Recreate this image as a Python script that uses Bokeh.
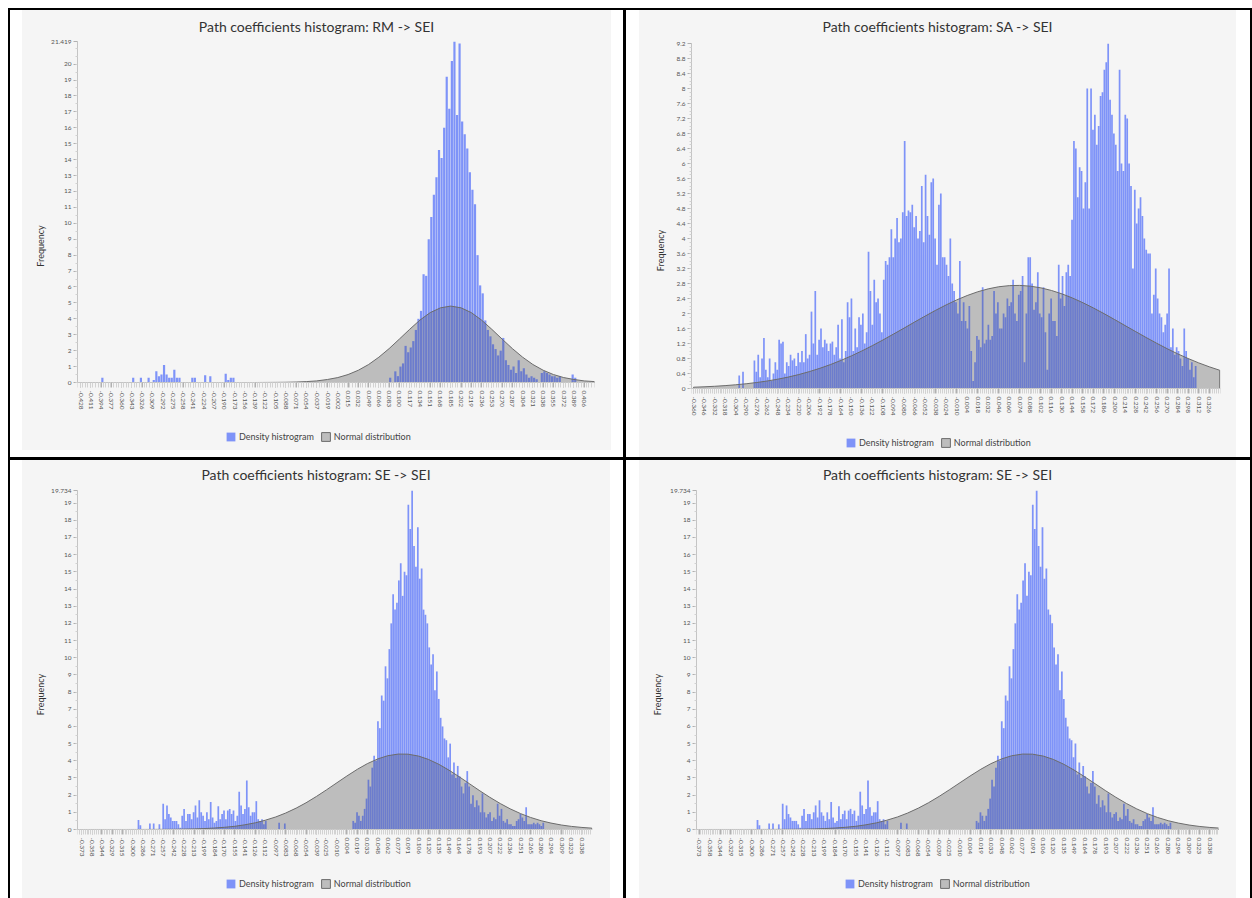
import math
import html
import numpy as np
from bokeh.plotting import figure
from bokeh.models import FixedTicker, NumeralTickFormatter, Legend, LegendItem, Div
from bokeh.layouts import row, column
from bokeh.embed import file_html
from bokeh.resources import INLINE

FONT = "Lato"

# ---------------------------------------------------------------- data
TL_TITLE = "Path coefficients histogram: RM -> SEI"
TR_TITLE = "Path coefficients histogram: SA -> SEI"
BL_TITLE = "Path coefficients histogram: SE -> SEI"
BR_TITLE = "Path coefficients histogram: SE -> SEI"

LEGEND_LABELS = ["Density histrogram", "Normal distribution"]
Y_LABEL = "Frequency"

TL_XLABELS = ["-0.428", "-0.411", "-0.394", "-0.377", "-0.360", "-0.343", "-0.326", "-0.309",
              "-0.292", "-0.275", "-0.258", "-0.241", "-0.224", "-0.207", "-0.190", "-0.173",
              "-0.156", "-0.139", "-0.122", "-0.105", "-0.088", "-0.071", "-0.054", "-0.037",
              "-0.019", "-0.002", "0.015", "0.032", "0.049", "0.066", "0.083", "0.100",
              "0.117", "0.134", "0.151", "0.168", "0.185", "0.202", "0.219", "0.236",
              "0.253", "0.270", "0.287", "0.304", "0.321", "0.338", "0.355", "0.372",
              "0.389", "0.406"]
TR_XLABELS = ["-0.360", "-0.346", "-0.332", "-0.318", "-0.304", "-0.290", "-0.276", "-0.262",
              "-0.248", "-0.234", "-0.220", "-0.206", "-0.192", "-0.178", "-0.164", "-0.150",
              "-0.136", "-0.122", "-0.108", "-0.094", "-0.080", "-0.066", "-0.052", "-0.038",
              "-0.024", "-0.010", "0.004", "0.018", "0.032", "0.046", "0.060", "0.074",
              "0.088", "0.102", "0.116", "0.130", "0.144", "0.158", "0.172", "0.186",
              "0.200", "0.214", "0.228", "0.242", "0.256", "0.270", "0.284", "0.298",
              "0.312", "0.326"]
B_XLABELS = ["-0.373", "-0.358", "-0.344", "-0.329", "-0.315", "-0.300", "-0.286", "-0.271",
             "-0.257", "-0.242", "-0.228", "-0.213", "-0.199", "-0.184", "-0.170", "-0.155",
             "-0.141", "-0.126", "-0.112", "-0.097", "-0.083", "-0.068", "-0.054", "-0.039",
             "-0.025", "-0.010", "0.004", "0.019", "0.033", "0.048", "0.062", "0.077",
             "0.091", "0.106", "0.120", "0.135", "0.149", "0.164", "0.178", "0.193",
             "0.207", "0.222", "0.236", "0.251", "0.265", "0.280", "0.294", "0.309",
             "0.323", "0.338"]

TL_YTICKS = [0, 1, 2, 3, 4, 5, 6, 7, 8, 9, 10, 11, 12, 13, 14, 15, 16, 17, 18, 19, 20, 21.419]
TR_YTICKS = [0, 0.4, 0.8, 1.2, 1.6, 2, 2.4, 2.8, 3.2, 3.6, 4, 4.4, 4.8, 5.2, 5.6, 6, 6.4,
             6.8, 7.2, 7.6, 8, 8.4, 8.8, 9.2]
B_YTICKS = [0, 1, 2, 3, 4, 5, 6, 7, 8, 9, 10, 11, 12, 13, 14, 15, 16, 17, 18, 19, 19.734]

# histogram bins: left edge of first bin, bin width, heights
TL_BIN_START = -0.428
TL_BIN_W = 0.004255
TL_HIST = [
    0, 0, 0, 0, 0, 0, 0, 0, 0.3, 0,
    0, 0, 0, 0, 0, 0, 0, 0, 0, 0,
    0.3, 0, 0, 0.3, 0, 0, 0.3, 0, 0.15, 0.7,
    0.4, 0.5, 1.1, 0.5, 0.3, 0.3, 0.8, 0.3, 0.3, 0,
    0, 0, 0, 0.3, 0.3, 0, 0, 0, 0.45, 0,
    0.4, 0, 0, 0, 0, 0, 0.55, 0.15, 0.3, 0.3,
    0, 0, 0, 0, 0, 0, 0, 0, 0, 0,
    0, 0, 0, 0, 0, 0, 0, 0, 0, 0,
    0, 0, 0, 0, 0, 0, 0, 0, 0, 0,
    0, 0, 0, 0, 0, 0, 0, 0, 0, 0,
    0, 0, 0, 0, 0, 0, 0, 0, 0, 0,
    0, 0, 0, 0, 0, 0, 0, 0, 0, 0,
    0.3, 0, 0.7, 0.4, 1.0, 1.2, 2.3, 1.9, 2.2, 2.6,
    3.3, 4.0, 4.5, 6.8, 6.7, 9.0, 10.4, 11.8, 12.9, 14.6,
    14.1, 16.0, 19.2, 17.2, 20.2, 21.419, 16.8, 21.3, 16.4, 15.6,
    14.7, 13.2, 12.1, 11.2, 8.0, 6.1, 5.6, 3.9, 3.3, 2.9,
    2.4, 2.1, 1.7, 2.0, 2.8, 1.4, 1.1, 0.8, 1.0, 0.6,
    1.4, 0.7, 0.9, 0.5, 0.3, 0.4, 0.3, 0.2, 0, 0.6,
    0.7, 0.6, 0.5, 0.4, 0.4, 0.3, 0.4, 0, 0, 0,
    0, 0.5, 0.3, 0, 0, 0, 0, 0, 0, 0,
]

TR_BIN_START = -0.3005
TR_BIN_W = 0.00253
TR_HIST = [
    0.35, 0, 0.45, 0, 0, 0, 0, 0, 0.75, 0.45,
    0.9, 0.3, 0.8, 1.35, 0.5, 0.3, 0.8, 0.2, 0.4, 0.7,
    0.5, 1.3, 1.2, 1.25, 0.4, 0.7, 0.6, 0.9, 0.75, 0.8,
    0.6, 0.95, 0.7, 1.0, 0.7, 1.45, 0.8, 0.9, 2.05, 1.2,
    2.6, 0.9, 1.3, 1.6, 1.1, 1.3, 1.2, 1.0, 1.2, 1.25,
    0.9, 1.1, 1.7, 0.8, 1.85, 0.7, 1.0, 2.3, 1.9, 2.4,
    1.0, 1.6, 1.1, 1.9, 1.7, 2.0, 1.2, 1.5, 3.65, 2.6,
    1.7, 2.9, 2.3, 2.4, 2.0, 1.5, 2.9, 3.4, 3.3, 3.5,
    4.25, 3.5, 4.0, 4.55, 3.9, 4.0, 4.7, 6.6, 4.6, 4.75,
    4.7, 4.9, 4.3, 4.6, 4.0, 4.2, 5.4, 3.9, 5.7, 4.6,
    4.1, 5.5, 5.6, 4.0, 3.3, 4.9, 5.2, 3.5, 3.5, 3.3,
    3.0, 4.0, 2.8, 2.6, 2.3, 2.0, 3.4, 1.8, 2.3, 1.8,
    1.6, 2.2, 1.0, 0.2, 0.7, 1.4, 1.3, 1.1, 2.7, 1.2,
    1.3, 1.7, 1.3, 1.4, 2.6, 2.0, 2.3, 1.6, 1.6, 2.0,
    1.9, 2.4, 2.2, 2.3, 2.9, 2.0, 1.8, 2.5, 2.6, 3.0,
    0.7, 2.0, 3.5, 3.5, 2.8, 2.1, 2.3, 3.1, 2.0, 1.9,
    2.7, 1.5, 0.5, 2.0, 2.4, 1.8, 1.8, 1.4, 3.3, 2.4,
    3.0, 2.2, 3.1, 3.3, 3.0, 4.5, 6.6, 6.4, 5.1, 5.9,
    5.8, 4.8, 5.5, 8.0, 4.8, 8.0, 6.9, 7.3, 6.5, 7.0,
    7.8, 7.9, 8.5, 8.7, 9.2, 7.7, 7.3, 6.8, 6.5, 5.8,
    8.5, 6.0, 5.8, 7.3, 7.2, 6.0, 5.4, 3.2, 5.3, 4.4,
    4.8, 5.1, 4.6, 4.0, 3.7, 3.6, 3.6, 2.0, 2.5, 3.2,
    2.4, 2.0, 1.9, 1.5, 1.7, 2.0, 3.2, 1.1, 1.6, 0.9,
    1.1, 1.0, 0.8, 0.6, 1.6, 1.0, 0.8, 0.5, 0.7, 0.3,
    0.6,
]

B_BIN_START = -0.2934
B_BIN_W = 0.0027
B_HIST = [
    0.55, 0.25, 0, 0, 0, 0, 0.35, 0, 0.35, 0,
    0, 0.3, 0, 1.5, 0.6, 1.4, 0.9, 0.7, 0.5, 0.5,
    0.5, 0.3, 0.1, 0.8, 1.2, 0.5, 0.9, 0.9, 0.6, 1.0,
    1.4, 0.7, 1.7, 1.0, 0.8, 0.5, 1.0, 0.6, 1.6, 0.7,
    0.4, 0.5, 1.35, 0.6, 0.9, 1.1, 0.6, 1.1, 1.2, 0.9,
    1.1, 0.5, 0.8, 2.2, 1.4, 0.9, 1.2, 2.85, 1.3, 0.8,
    1.0, 1.0, 1.65, 0.6, 0.5, 0.6, 0.3, 0.5, 0, 0,
    0, 0, 0, 0, 0.4, 0, 0, 0.35, 0, 0,
    0, 0, 0, 0, 0, 0, 0, 0, 0, 0,
    0, 0, 0, 0, 0, 0, 0, 0, 0, 0,
    0, 0, 0, 0, 0, 0, 0, 0, 0, 0,
    0, 0, 0, 0.5, 0.4, 1.0, 0.8, 0.5, 0.8, 1.2,
    1.8, 2.9, 2.5, 3.6, 4.3, 4.0, 6.3, 5.9, 7.8, 7.5,
    9.5, 8.8, 10.5, 12.0, 13.7, 12.8, 13.2, 14.5, 15.5, 13.6,
    15.0, 14.8, 18.9, 17.5, 19.734, 16.5, 15.3, 17.6, 14.6, 15.2,
    12.8, 12.5, 12.0, 10.6, 9.6, 10.2, 8.1, 9.2, 7.6, 6.5,
    6.0, 5.3, 5.2, 4.2, 5.0, 3.2, 3.9, 3.0, 3.7, 3.1,
    2.5, 2.1, 2.7, 3.4, 2.5, 1.5, 2.0, 1.3, 1.7, 1.4,
    1.0, 2.1, 1.0, 0.7, 0.9, 1.0, 0.5, 0.7, 0.6, 1.5,
    0.8, 1.2, 0.5, 0.4, 0.6, 0.3, 0.3, 0.2, 0.2, 0.5,
    0.6, 0.9, 0.7, 0.5, 1.3, 0.3, 0.3, 0.3, 0.4, 0.3,
    0.4, 0.3, 0.2, 0.4,
]

# normal distribution curve, read at each labelled x position plus the right end
TL_NORM_END = 0.423
TL_NORM = [0, 0, 0, 0, 0, 0, 0, 0, 0, 0, 0, 0, 0, 0, 0, 0, 0, 0,
           0.003, 0.007, 0.014, 0.029, 0.056, 0.10, 0.19, 0.31, 0.50, 0.77, 1.13, 1.59,
           2.13, 2.73, 3.34, 3.92, 4.39, 4.69, 4.80, 4.69, 4.39, 3.92, 3.34, 2.73,
           2.13, 1.59, 1.13, 0.77, 0.50, 0.31, 0.19, 0.10, 0.056]
TR_NORM_END = 0.340
TR_NORM = [0.034, 0.045, 0.059, 0.077, 0.099, 0.126, 0.160, 0.200, 0.248, 0.305, 0.372,
           0.450, 0.538, 0.637, 0.748, 0.870, 1.002, 1.144, 1.294, 1.451, 1.610, 1.772,
           1.930, 2.084, 2.229, 2.362, 2.479, 2.579, 2.657, 2.713, 2.743, 2.749, 2.729,
           2.684, 2.615, 2.524, 2.414, 2.287, 2.147, 1.997, 1.840, 1.679, 1.519, 1.361,
           1.208, 1.062, 0.925, 0.799, 0.683, 0.579, 0.486]
B_NORM_END = 0.352
B_NORM = [0.0, 0.0001, 0.0002, 0.0004, 0.0007, 0.0013, 0.0023, 0.0043, 0.0073, 0.0127,
          0.021, 0.034, 0.054, 0.085, 0.128, 0.188, 0.273, 0.391, 0.539, 0.731, 0.957,
          1.245, 1.555, 1.930, 2.306, 2.725, 3.113, 3.507, 3.832, 4.111, 4.294, 4.391,
          4.385, 4.273, 4.079, 3.788, 3.457, 3.059, 2.669, 2.251, 1.878, 1.509, 1.203,
          0.922, 0.702, 0.512, 0.374, 0.260, 0.181, 0.120, 0.080]

PANEL_BG = "#f5f5f5"


# ---------------------------------------------------------------- drawing
def title_div(text, width, height, pad_top):
    inner = ('<div style="width:%dpx;text-align:center;font-family:Lato;font-size:14px;'
             'color:#333333;line-height:15px;padding-top:%dpx;white-space:nowrap">%s</div>'
             % (width, pad_top, html.escape(text)))
    return Div(text=inner, width=width, height=height, margin=0,
               styles={"background-color": PANEL_BG})


def panel(title, xlabels, xr, yticks, ymax, yminor, bin_start, bin_w, hist, norm, norm_end,
          width, height, title_h, title_pad, left, right, frame_top, zero_px,
          ylab_standoff, legend_xy, margin, bar_frac):
    fig_h = height - title_h
    # the frame runs to the bottom edge; the x axis is drawn at y = 0 inside it,
    # so the legend below the tick labels stays inside the frame
    ylo = -ymax * (fig_h - zero_px) / (zero_px - frame_top)
    p = figure(width=width, height=fig_h, x_range=xr, y_range=(ylo, ymax),
               output_backend="svg", toolbar_location=None,
               min_border_left=left, min_border_right=right,
               min_border_top=frame_top, min_border_bottom=0)
    p.background_fill_color = PANEL_BG
    p.border_fill_color = PANEL_BG
    p.outline_line_color = None
    p.xgrid.visible = False
    p.ygrid.visible = False

    xticks = [float(s) for s in xlabels]
    nx = xticks + [norm_end]
    px = [nx[0]] + nx + [nx[-1]]
    py = [0.0] + list(norm) + [0.0]

    base = p.patch(px, py, fill_color="#dedede", line_color=None)
    centers = [bin_start + (i + 0.5) * bin_w for i, v in enumerate(hist) if v > 0]
    tops = [v for v in hist if v > 0]
    bars = p.vbar(x=centers, top=tops, bottom=0, width=bin_w * bar_frac,
                  fill_color=(80, 110, 250), fill_alpha=0.72, line_color=None)
    over = p.patch(px, py, fill_color="#3c3c3c", fill_alpha=0.2,
                   line_color="#6c6c6c", line_width=1)

    # axes
    minor_x = list(np.arange(xr[0], xr[1], bin_w))
    p.xaxis.ticker = FixedTicker(ticks=xticks, minor_ticks=minor_x)
    p.xaxis.formatter = NumeralTickFormatter(format="0.000")
    p.xaxis.major_label_orientation = -math.pi / 2
    p.xaxis.fixed_location = 0
    p.yaxis.ticker = FixedTicker(ticks=yticks, minor_ticks=list(np.arange(0, ymax, yminor)))
    p.yaxis.formatter = NumeralTickFormatter(format="0.[000]")
    p.yaxis.bounds = (0, ymax)
    for ax in (p.xaxis[0], p.yaxis[0]):
        ax.axis_line_color = "#c4c4c4"
        ax.major_tick_line_color = "#b0b0b0"
        ax.minor_tick_line_color = "#d2d2d2"
        ax.major_label_text_font = FONT
        ax.major_label_text_font_size = "6.5px"
        ax.major_label_text_color = "#555555"
        ax.major_tick_in = 0
        ax.minor_tick_in = 0
    p.xaxis.major_tick_out = 5
    p.xaxis.minor_tick_out = 5
    p.xaxis.major_label_standoff = 3
    p.yaxis.major_tick_out = 4
    p.yaxis.minor_tick_out = 2
    p.yaxis.major_label_standoff = 2
    p.yaxis.axis_label = Y_LABEL
    p.yaxis.axis_label_text_font = FONT
    p.yaxis.axis_label_text_font_size = "9px"
    p.yaxis.axis_label_text_font_style = "normal"
    p.yaxis.axis_label_text_color = "#333333"
    p.yaxis.axis_label_standoff = ylab_standoff

    leg = Legend(items=[LegendItem(label=LEGEND_LABELS[0], renderers=[bars]),
                        LegendItem(label=LEGEND_LABELS[1], renderers=[base, over])],
                 location=legend_xy, orientation="horizontal",
                 background_fill_alpha=0, border_line_color=None,
                 padding=0, margin=0, glyph_width=11, glyph_height=11,
                 label_height=11, label_standoff=3, spacing=6,
                 label_text_font=FONT, label_text_font_size="9px",
                 label_text_color="#444444")
    p.add_layout(leg)

    return column(title_div(title, width, title_h, title_pad), p, margin=margin,
                  styles={"background-color": PANEL_BG})


c1 = panel(TL_TITLE, TL_XLABELS, (-0.433, 0.423), TL_YTICKS, 21.419, 0.5,
           TL_BIN_START, TL_BIN_W, TL_HIST, TL_NORM, TL_NORM_END,
           589, 440, 25, 9, 55, 17, 6, 347, 2, (148, 8.5), (0, 12, 7, 12), 0.85)
c2 = panel(TR_TITLE, TR_XLABELS, (-0.3627, 0.341), TR_YTICKS, 9.2, 0.1,
           TR_BIN_START, TR_BIN_W, TR_HIST, TR_NORM, TR_NORM_END,
           597, 447, 27, 9, 52, 16, 6, 351, 7, (154, 9.5), (0, 14, 0, 13), 0.9)
c3 = panel(BL_TITLE, B_XLABELS, (-0.3787, 0.353), B_YTICKS, 19.734, 0.5,
           B_BIN_START, B_BIN_W, B_HIST, B_NORM, B_NORM_END,
           588, 438, 24, 7, 55, 18, 6, 345, 2, (148, 9.5), (0, 13, 0, 12), 0.9)
c4 = panel(BR_TITLE, B_XLABELS, (-0.377, 0.350), B_YTICKS, 19.734, 0.5,
           B_BIN_START, B_BIN_W, B_HIST, B_NORM, B_NORM_END,
           597, 438, 24, 7, 57, 18, 6, 345, 4, (148, 9.5), (0, 14, 0, 13), 0.9)


def rule(w, h):
    return Div(text="", width=w, height=h, margin=0, styles={"background-color": "black"})


layout = column(
    rule(1244, 2),
    row(rule(2, 447), c1, rule(3, 447), c2, rule(2, 447)),
    rule(1244, 3),
    row(rule(2, 438), c3, rule(3, 438), c4, rule(2, 438)),
    margin=(8, 0, 0, 8),
)

open("out.html", "w").write(file_html(layout, INLINE))
